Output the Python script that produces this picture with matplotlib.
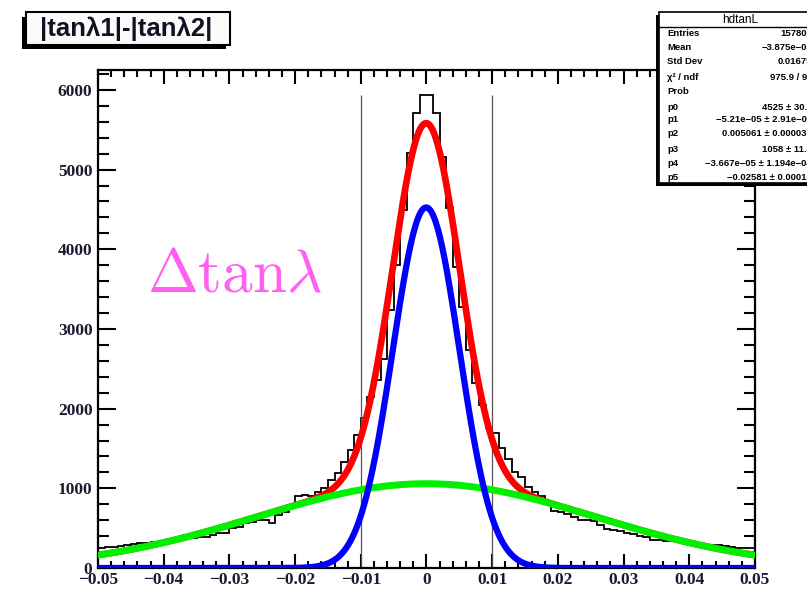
import numpy as np
import matplotlib.pyplot as plt
from matplotlib.patches import Rectangle
from matplotlib.ticker import MultipleLocator, FuncFormatter

# histogram hdtanL, 100 bins from -0.05 to 0.05 (counts)
edges = np.linspace(-0.05, 0.05, 101)
counts = [250, 265, 268, 275, 285, 300, 310, 313, 322, 330,
          338, 348, 360, 372, 378, 385, 393, 415, 435, 440,
          500, 515, 560, 580, 600, 605, 565, 665, 700, 770,
          900, 916, 905, 960, 1000, 1100, 1190, 1335, 1480, 1670,
          1880, 2150, 2360, 2620, 3240, 3800, 4490, 5210, 5710, 5940,
          5940, 5710, 5160, 4520, 3780, 3280, 2740, 2320, 2050, 1760,
          1690, 1500, 1370, 1210, 1146, 1020, 960, 900, 820, 720,
          707, 675, 640, 605, 600, 590, 540, 490, 480, 470,
          445, 432, 400, 390, 355, 350, 345, 333, 322, 312,
          304, 298, 292, 289, 285, 270, 266, 252, 248, 245]

# double gaussian fit parameters (from the stats box)
p = [4525, -5.21e-05, 0.005061, 1058, -3.667e-05, -0.02581]

stat_names = ['Entries', 'Mean', 'Std Dev', 'χ² / ndf', 'Prob',
              'p0', 'p1', 'p2', 'p3', 'p4', 'p5']
stat_values = ['157802', '\u22123.875e\u221205', '0.01675', '975.9 / 94', '0',
               '4525 \u00b1 30.1', '\u22125.21e\u221205 \u00b1 2.91e\u221205',
               '0.005061 \u00b1 0.000036', '1058 \u00b1 11.4',
               '\u22123.667e\u221205 \u00b1 1.194e\u221204',
               '\u22120.02581 \u00b1 0.00018']

W, H = 807, 589
fig = plt.figure(figsize=(W / 100, H / 100), dpi=100)

def fx(px):
    return px / W

def fy(py):
    return 1 - py / H

ax = fig.add_axes([fx(98), fy(568), fx(755) - fx(98), fy(70) - fy(568)])

ax.stairs(counts, edges, color='black', lw=1.3, zorder=2)
ax.vlines([-0.01, 0.01], 0, max(counts), color='#555555', lw=0.9, zorder=2.5)

xs = np.linspace(-0.05, 0.05, 600)
g1 = p[0] * np.exp(-0.5 * ((xs - p[1]) / p[2]) ** 2)
g2 = p[3] * np.exp(-0.5 * ((xs - p[4]) / p[5]) ** 2)
ax.plot(xs, g1 + g2, color='#ff0000', lw=4.8, zorder=3)
ax.plot(xs, g2, color='#00f000', lw=5, zorder=4)
ax.plot(xs, g1, color='#0000ff', lw=4.5, zorder=5)

ax.set_xlim(-0.05, 0.05)
ax.set_ylim(0, 6250)
ax.xaxis.set_major_locator(MultipleLocator(0.01))
ax.xaxis.set_minor_locator(MultipleLocator(0.002))
ax.yaxis.set_major_locator(MultipleLocator(1000))
ax.yaxis.set_minor_locator(MultipleLocator(200))

def xfmt(v, pos):
    if abs(v) < 1e-9:
        return '0'
    return ('%.2f' % v).replace('-', '\u2212')

ax.xaxis.set_major_formatter(FuncFormatter(xfmt))
ax.yaxis.set_major_formatter(FuncFormatter(lambda v, pos: '%d' % v))

ax.tick_params(which='both', direction='in', top=True, right=True, width=1.5,
               labelcolor='#1a1a30')
ax.tick_params(axis='x', which='major', length=10, pad=3)
ax.tick_params(axis='x', which='minor', length=5)
ax.tick_params(axis='y', which='major', length=13, pad=4)
ax.tick_params(axis='y', which='minor', length=8)
for lab in ax.get_xticklabels() + ax.get_yticklabels():
    lab.set_fontfamily('Liberation Serif')
    lab.set_fontweight('bold')
    lab.set_fontsize(12.5)
for s in ax.spines.values():
    s.set_linewidth(1.6)

ax.text(-0.04254, 3464, r'$\Delta\mathrm{tan}\lambda$', color='#ff60f0', fontsize=44,
        math_fontfamily='cm', va='baseline', ha='left', zorder=6)

# title box
fig.add_artist(Rectangle((fx(22), fy(49)), fx(226) - fx(22), fy(17) - fy(49),
                         transform=fig.transFigure, facecolor='black', edgecolor='none'))
fig.add_artist(Rectangle((fx(26), fy(45)), fx(230) - fx(26), fy(12) - fy(45),
                         transform=fig.transFigure, facecolor='#fbfbfb',
                         edgecolor='black', lw=1.5))
fig.text(fx(126), fy(29), '|tan\u03bb1|-|tan\u03bb2|', fontsize=18.5,
         family='Liberation Sans', fontweight='bold', ha='center', va='center',
         color='#111122')

# stats box
fig.add_artist(Rectangle((fx(656), fy(186)), fx(826) - fx(656), fy(15) - fy(186),
                         transform=fig.transFigure, facecolor='black', edgecolor='none',
                         zorder=10))
fig.add_artist(Rectangle((fx(659), fy(183)), fx(830) - fx(659), fy(12) - fy(183),
                         transform=fig.transFigure, facecolor='white',
                         edgecolor='black', lw=1.2, zorder=11))
fig.add_artist(plt.Line2D([fx(659), fx(830)], [fy(27), fy(27)],
                          transform=fig.transFigure, color='black', lw=1.0, zorder=12))
fig.text(fx(740), fy(20), 'hdtanL', fontsize=8.5, family='Liberation Sans',
         ha='center', va='center', zorder=12)
row_y = [33, 47, 61, 77, 91, 107, 120, 134, 149, 163, 178]
for name, val, yy in zip(stat_names, stat_values, row_y):
    fig.text(fx(667), fy(yy), name, fontsize=6.8, family='Liberation Sans',
             fontweight='bold', ha='left', va='center', zorder=12)
    fig.text(fx(812), fy(yy), val, fontsize=6.8, family='Liberation Sans',
             fontweight='bold', ha='right', va='center', zorder=12)

fig.savefig('out.png', dpi=100)
